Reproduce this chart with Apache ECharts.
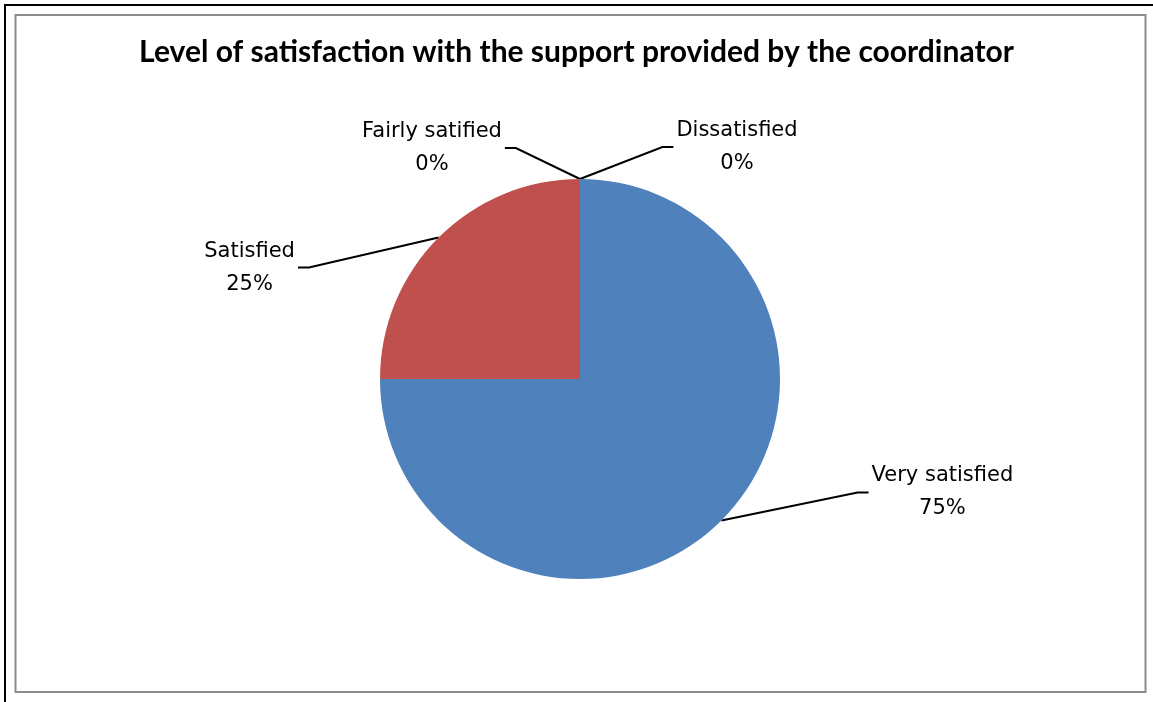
<!DOCTYPE html>
<html>
<head>
<meta charset="utf-8">
<style>
  html, body { margin: 0; padding: 0; background: #fff; }
  #chart { width: 1153px; height: 702px; }
</style>
<script src="https://cdn.jsdelivr.net/npm/echarts@6/dist/echarts.min.js"></script>
</head>
<body>
<div id="chart"></div>
<script>
// Survey answers, in the order the slices run clockwise from 12 o'clock
const categories = ['Very satisfied', 'Satisfied', 'Fairly satified', 'Dissatisfied'];
const shares = [75, 25, 0, 0];
const sliceColors = ['#4F81BD', '#C0504D', '#9BBB59', '#8064A2'];
const titleText = 'Level of satisfaction with the support provided by the coordinator';

// Where each label sits relative to the point where its leader line leaves the pie
const labelOffsets = {
  'Very satisfied': [221, -28],
  'Satisfied': [-189, 30],
  'Fairly satified': [-148, -31],
  'Dissatisfied': [157, -32]
};

const chart = echarts.init(document.getElementById('chart'), null, { renderer: 'canvas' });

chart.setOption({
  backgroundColor: '#ffffff',
  animation: false,
  title: {
    text: titleText,
    left: 'center',
    top: 32,
    textStyle: { fontFamily: 'Lato', fontWeight: 'bold', fontSize: 30, color: '#000' }
  },
  graphic: [
    // outer black frame (left and top edges)
    { type: 'line', shape: { x1: 5, y1: 5, x2: 5, y2: 702 }, style: { stroke: '#000', lineWidth: 2 } },
    { type: 'line', shape: { x1: 4, y1: 5, x2: 1153, y2: 5 }, style: { stroke: '#000', lineWidth: 2 } },
    // chart area border
    { type: 'rect', shape: { x: 15.5, y: 15, width: 1130, height: 677 }, style: { fill: 'none', stroke: '#8c8c8c', lineWidth: 2 } }
  ],
  series: [{
    type: 'pie',
    center: [580, 379],
    radius: 200,
    startAngle: 90,
    clockwise: true,
    avoidLabelOverlap: false,
    minShowLabelAngle: 0,
    data: categories.map((name, i) => ({ name, value: shares[i], itemStyle: { color: sliceColors[i] } })),
    label: {
      show: true,
      position: 'outside',
      formatter: p => p.name + '\n' + p.value + '%',
      fontFamily: 'DejaVu Sans',
      fontSize: 21,
      lineHeight: 33,
      color: '#000',
      align: 'center'
    },
    labelLine: {
      show: true,
      length: 20,
      length2: 10,
      lineStyle: { color: '#000', width: 2 }
    },
    labelLayout: function (params) {
      const name = categories[params.dataIndex];
      const off = labelOffsets[name];
      const start = params.labelLinePoints[0];
      const cx = start[0] + off[0];
      const cy = start[1] + off[1];
      const half = params.labelRect.width / 2;
      const toRight = off[0] > 0;
      const endX = toRight ? cx - half - 3 : cx + half + 3;
      const bendX = toRight ? endX - 11 : endX + 11;
      return {
        x: cx,
        y: cy,
        align: 'center',
        verticalAlign: 'middle',
        labelLinePoints: [start, [bendX, cy], [endX, cy]]
      };
    },
    emphasis: { disabled: true }
  }]
});
</script>
</body>
</html>
